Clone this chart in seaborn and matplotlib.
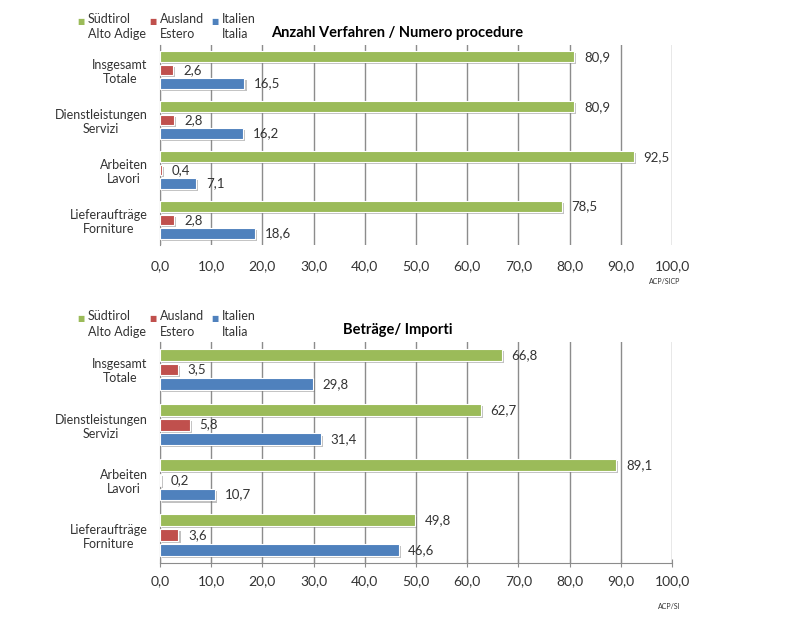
import matplotlib
matplotlib.use("Agg")
import matplotlib.pyplot as plt
import matplotlib.patheffects as pe
from matplotlib.ticker import FuncFormatter
import pandas as pd
import seaborn as sns

# categories and series (reading order top to bottom)
categories = ["Insgesamt\nTotale", "Dienstleistungen\nServizi", "Arbeiten\nLavori", "Lieferaufträge\nForniture"]
series = ["Südtirol", "Ausland", "Italien"]
series_labels = ["Südtirol\nAlto Adige", "Ausland\nEstero", "Italien\nItalia"]
colors = ["#9BBB59", "#C0504D", "#4F81BD"]

# Anzahl Verfahren / Numero procedure
count_suedtirol = [80.9, 80.9, 92.5, 78.5]
count_ausland = [2.6, 2.8, 0.4, 2.8]
count_italien = [16.5, 16.2, 7.1, 18.6]

# Beträge / Importi
amount_suedtirol = [66.8, 62.7, 89.1, 49.8]
amount_ausland = [3.5, 5.8, 0.2, 3.6]
amount_italien = [29.8, 31.4, 10.7, 46.6]

xticks = [0, 10, 20, 30, 40, 50, 60, 70, 80, 90, 100]


def to_long(s, a, i):
    rows = []
    for name, vals in zip(series, [s, a, i]):
        for cat, v in zip(categories, vals):
            rows.append({"cat": cat, "serie": name, "val": v})
    return pd.DataFrame(rows)


def comma(v, pos=None):
    return f"{v:.1f}".replace(".", ",")


plt.rcParams["font.family"] = ["Lato", "DejaVu Sans"]
fig = plt.figure(figsize=(8, 6.17), dpi=100)

panels = [
    (to_long(count_suedtirol, count_ausland, count_italien), [0.2, 0.603, 0.64, 0.324],
     "Anzahl Verfahren / Numero procedure", 0.947, "ACP/SICP", 0.543, 0.975, False),
    (to_long(amount_suedtirol, amount_ausland, amount_italien), [0.2, 0.088, 0.64, 0.358],
     "Beträge/ Importi", 0.465, "ACP/SI", 0.017, 0.493, True),
]

for df, rect, title, ty, src, sy, ly, bottom_axis in panels:
    ax = fig.add_axes(rect)
    sns.barplot(data=df, y="cat", x="val", hue="serie", hue_order=series,
                palette=colors, saturation=1, orient="h", width=0.8, gap=0.2,
                legend=False, ax=ax, edgecolor="white", linewidth=0.8, zorder=3)
    for bar in ax.patches:
        bar.set_path_effects([pe.SimplePatchShadow(offset=(1.5, -1.5), shadow_rgbFace="#777777", alpha=0.45),
                              pe.Normal()])
    for cont in ax.containers:
        ax.bar_label(cont, labels=[comma(v) for v in cont.datavalues], padding=7,
                     fontsize=9.5, color="#333333")

    ax.set_xlim(0, 100)
    ax.set_xticks(xticks)
    ax.xaxis.set_major_formatter(FuncFormatter(comma))
    ax.set_xlabel("")
    ax.set_ylabel("")
    ax.set_yticks(range(len(categories)))
    ax.set_yticklabels(categories, multialignment="center", fontsize=9, color="#333333")
    ax.tick_params(axis="y", length=0, pad=9)
    ax.grid(axis="x", color="#8c8c8c", linewidth=1.0, zorder=0)
    ax.set_axisbelow(True)
    for s in ["top", "right"]:
        ax.spines[s].set_visible(False)
    ax.spines["left"].set_color("#8c8c8c")
    if bottom_axis:
        ax.spines["bottom"].set_color("#8c8c8c")
        ax.tick_params(axis="x", direction="inout", length=6, color="#8c8c8c",
                       labelsize=10, labelcolor="#333333", pad=6)
    else:
        ax.spines["bottom"].set_visible(False)
        ax.tick_params(axis="x", length=0, labelsize=10, labelcolor="#333333", pad=11)

    fig.text(0.497, ty, title, ha="center", va="center", fontsize=10.5, fontweight="bold")
    fig.text(0.85, sy, src, ha="right", va="center", fontsize=5, color="#333333")

    # legend, drawn by hand so the marker sits on the first line
    for lx, lab, col in zip([0.097, 0.187, 0.264], series_labels, colors):
        fig.text(lx, ly - 0.002, "■", color=col, fontsize=5.5, va="top", ha="left",
                 family=["DejaVu Sans"])
        fig.text(lx + 0.013, ly + 0.004, lab, fontsize=9, va="top", ha="left",
                 color="#333333", linespacing=1.35)

fig.savefig("out.png", dpi=100, facecolor="white")
